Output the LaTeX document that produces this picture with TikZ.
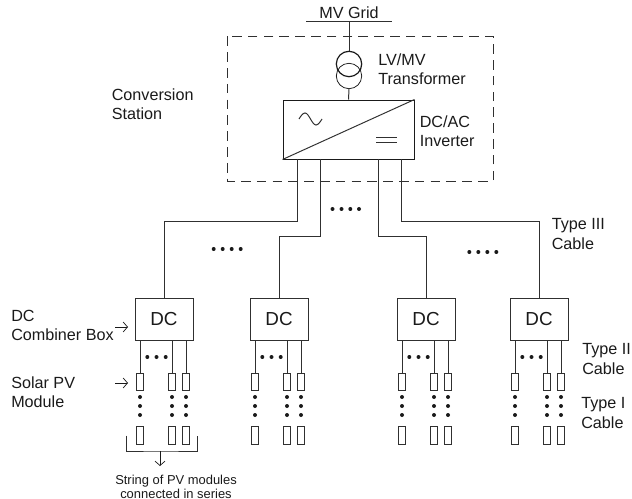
\documentclass[tikz,border=0pt]{standalone}
\usepackage{fontspec}
\setmainfont{Liberation Sans}
\usetikzlibrary{arrows.meta,calc,positioning}
\definecolor{ink}{HTML}{1A1A1A}
\definecolor{wire}{HTML}{303030}
\newcommand{\FigBody}{\fontsize{11.5}{13.9}\selectfont}
\newcommand{\FigSmall}{\fontsize{9.2}{10}\selectfont}
\newcommand{\FigBox}{\fontsize{13.4}{16}\selectfont}
\tikzset{
  wire line/.style={line width=0.7pt, wire},
  tag arrow/.style={
    -{Straight Barb[length=1.1mm,width=2.5mm]},
    line width=0.5pt, ink
  },
  tag/.style={font=\FigBody, text=ink, align=left, anchor=west, inner sep=0pt},
  dc box/.style={
    draw=wire, line width=0.7pt, fill=white, inner sep=0pt,
    minimum width=14.5mm, minimum height=10.7mm, font=\FigBox, text=ink
  },
  pv module/.style={
    draw=wire, line width=0.7pt, fill=white, inner sep=0pt,
    minimum width=1.8mm, minimum height=4.3mm
  },
  winding/.style={
    draw=ink, circle, line width=0.7pt, inner sep=0pt, minimum size=6.35mm
  },
  dot/.style={fill=ink},
}

\begin{document}
\begin{tikzpicture}[x=0.25mm,y=-0.25mm]
  \useasboundingbox (0,0) rectangle (632,499);

  % Conversion station frame
  \draw[wire line,dash pattern=on 2.4mm off 1.55mm] (227.5,36.5) rectangle (493,181);

  % Grid and transformer
  \node[font=\FigBody,text=ink,inner sep=0pt] (grid) at (349,13) {MV Grid};
  \coordinate (busL) at (306,21);
  \coordinate (busR) at (392,21);
  \coordinate (busM) at (349,21);
  \draw[wire line] (busL) -- (busR);
  \node[winding,line width=0.55pt] (tfLo) at (349,76) {};
  \node[winding,line width=0.85pt] (tfUp) at (349,64) {};
  \draw[wire line] (busM) -- (tfUp.north);

  % Inverter
  \node[draw=ink,line width=0.7pt,minimum width=32.75mm,minimum height=14.75mm,inner sep=0pt] (inv) at (348.5,129.5) {};
  \draw[wire line] (tfLo.south) -- (inv.north);
  \draw[wire line] (inv.south west) -- (inv.north east);
  \draw[wire line] (299,119) sin (305,113) cos (310.5,119) sin (316,125) cos (322,119);
  \draw[wire line] (376,137) -- (397,137);
  \draw[wire line] (376,142) -- (397,142);

  % Labels
  \node[tag] (lvmv) at (378,69) {LV/MV\\Transformer};
  \node[tag] (invlab) at (419.5,131) {DC/AC\\Inverter};
  \node[tag] (station) at (111.5,104) {Conversion\\Station};
  \node[tag] (dclab) at (11,325.5) {DC\\Combiner Box};
  \node[tag] (pvlab) at (11,392) {Solar PV\\Module};
  \node[tag] (type3) at (551.5,234) {Type III\\Cable};
  \node[tag] (type2) at (582,359) {Type II\\Cable};
  \node[tag] (type1) at (581,413) {Type I\\Cable};

  % Combiner boxes, strings and modules
  \foreach \b/\x in {1/164,2/279,3/426,4/539} {
    \node[dc box] (dc\b) at (\x,319.5) {DC};
    \foreach \s/\dx in {a/-24,b/8,c/22} {
      \node[pv module] (top\b\s) at (\x+\dx,382) {};
      \node[pv module] (bot\b\s) at (\x+\dx,435.5) {};
      \draw[wire line] (top\b\s.north |- dc\b.south) -- (top\b\s.north);
      \foreach \yy in {397,406,415}
        \fill[dot] (\x+\dx,\yy) circle (0.5mm);
    }
    \foreach \dx in {-16.7,-7.5,1.7}
      \fill[dot] (\x+\dx,357) circle (0.5mm);
  }

  % Type III cables
  \foreach \b/\sx/\drop in {1/297/62,2/320/77,3/378/77,4/401/62} {
    \coordinate (out\b) at (\sx,159);
    \draw[wire line] (out\b) -- ++(0,\drop) -| (dc\b.north);
  }

  % Dots between the cables
  \foreach \xa/\yy in {213.7/249,222.7/249,231.7/249,240.7/249,
                       332.5/209,341.5/209,350.3/209,359/209,
                       469.3/252,478.3/252,487.3/252,496.3/252}
    \fill[dot] (\xa,\yy) circle (0.5mm);

  % Pointers
  \coordinate (dcA) at (115,327);
  \coordinate (dcB) at (128,327);
  \draw[tag arrow] (dcA) -- (dcB);
  \coordinate (pvA) at (115,383);
  \coordinate (pvB) at (128,383);
  \draw[tag arrow] (pvA) -- (pvB);

  % String bracket
  \coordinate (brL) at (126.7,435.5);
  \coordinate (brR) at (197.7,435.5);
  \coordinate (brM) at (160,451);
  \coordinate (brT) at (160,466);
  \draw[wire line] (brL) |- (brM) -| (brR);
  \draw[tag arrow] (brM) -- (brT);
  \node[font=\FigSmall,text=ink,align=center,inner sep=0pt] (strlab) at (176,486.5) {String of PV modules\\connected in series};
\end{tikzpicture}
\end{document}
